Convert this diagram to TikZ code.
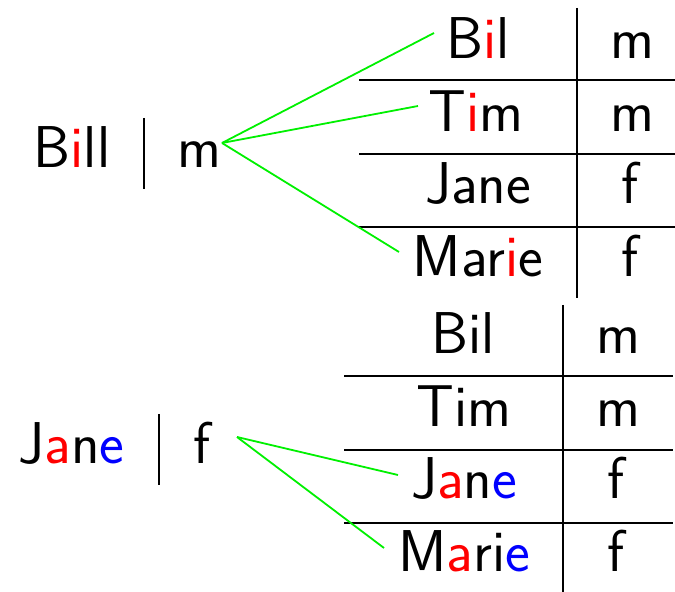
\documentclass[tikz,border=0pt]{standalone}
\usepackage{xcolor}
\definecolor{lgreen}{RGB}{0,240,0}
\newcommand{\R}[1]{\textcolor{red}{#1}}
\newcommand{\B}[1]{\textcolor{blue}{#1}}
\begin{document}
\begin{tikzpicture}[x=0.5pt,y=-0.5pt,
  txt/.style={inner sep=0pt,anchor=base,font=\fontsize{29.5}{35}\selectfont\sffamily},
  rule/.style={line width=0.9pt,black},
  link/.style={line width=0.9pt,lgreen}]
\useasboundingbox (0,0) rectangle (675,592);
% top left entry
\node[txt] (bill) at (72,168) {B\R{i}ll};
\node[txt] (billg) at (199,168) {m};
\draw[rule] (144,118) -- (144,189);
% top table
\node[txt] (t1) at (478,59) {B\R{i}l};
\node[txt] (t1g) at (632,59) {m};
\node[txt] (t2) at (476,132) {T\R{i}m};
\node[txt] (t2g) at (632,132) {m};
\node[txt] (t3) at (478,204) {Jane};
\node[txt] (t3g) at (630,204) {f};
\node[txt] (t4) at (478,277) {Mar\R{i}e};
\node[txt] (t4g) at (630,277) {f};
\draw[rule] (577,8) -- (577,298);
\draw[rule] (359,80) -- (675,80);
\draw[rule] (359,154) -- (675,154);
\draw[rule] (359,227) -- (675,227);
% bottom left entry
\node[txt] (jane) at (71.5,464) {J\R{a}n\B{e}};
\node[txt] (janeg) at (201.5,464) {f};
\draw[rule] (159,414) -- (159,485);
% bottom table
\node[txt] (b1) at (463,354) {Bil};
\node[txt] (b1g) at (618,354) {m};
\node[txt] (b2) at (464,427) {Tim};
\node[txt] (b2g) at (618,427) {m};
\node[txt] (b3) at (464,499) {J\R{a}n\B{e}};
\node[txt] (b3g) at (616,499) {f};
\node[txt] (b4) at (464,572) {M\R{a}ri\B{e}};
\node[txt] (b4g) at (616,572) {f};
\draw[rule] (563,305) -- (563,592);
\draw[rule] (344,376) -- (673,376);
\draw[rule] (344,450) -- (673,450);
\draw[rule] (344,523) -- (673,523);
% connector end points
\coordinate (s1) at (222,143);
\coordinate (e11) at (434,33);
\coordinate (e12) at (418,106);
\coordinate (e14) at (399,252);
\coordinate (s2) at (237,437);
\coordinate (e23) at (398,475);
\coordinate (e24) at (384,548);
\draw[link] (s1) -- (e11);
\draw[link] (s1) -- (e12);
\draw[link] (s1) -- (e14);
\draw[link] (s2) -- (e23);
\draw[link] (s2) -- (e24);
\end{tikzpicture}
\end{document}
